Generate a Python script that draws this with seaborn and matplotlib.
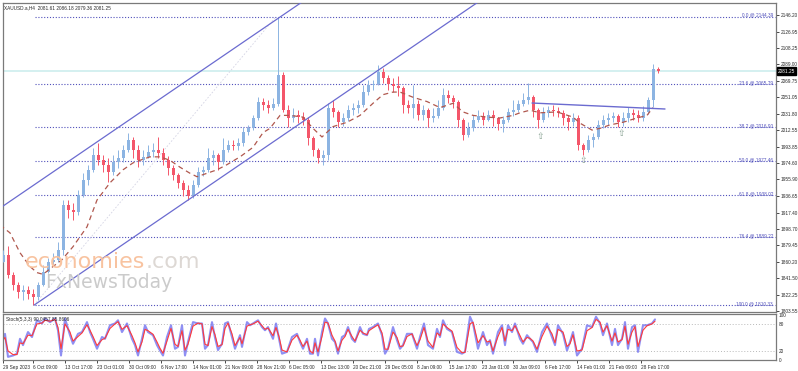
import numpy as np
import pandas as pd
import matplotlib
matplotlib.use("Agg")
import matplotlib.pyplot as plt
import seaborn as sns

# ---------------- data ----------------
title_text = "XAUUSD.a,H4  2081.61 2086.18 2079.36 2081.25"
stoch_title = "Stoch(5,3,3) 90.0457 85.8606"
first_open = 1860
closes = [1868, 1845, 1834, 1826, 1828, 1823, 1820, 1834, 1849, 1860,
          1863, 1874, 1926, 1920, 1918, 1938, 1955, 1967, 1984, 1978,
          1973, 1965, 1976, 1981, 1990, 2002, 1990, 1978, 1982, 1988,
          1990, 1986, 1978, 1969, 1961, 1952, 1944, 1937, 1949, 1965,
          1967, 1981, 1984, 1976, 1990, 1996, 1995, 1998, 2011, 2015,
          2027, 2045, 2042, 2038, 2043, 2077, 2036, 2027, 2030, 2028,
          2025, 2004, 1990, 1981, 1984, 2038, 2034, 2022, 2027, 2036,
          2038, 2042, 2057, 2065, 2066, 2080, 2073, 2066, 2064, 2062,
          2042, 2038, 2043, 2030, 2036, 2027, 2029, 2038, 2054, 2050,
          2045, 2025, 2007, 2015, 2025, 2029, 2025, 2030, 2027, 2020,
          2025, 2034, 2036, 2043, 2048, 2051, 2036, 2025, 2033, 2036,
          2035, 2033, 2027, 2022, 2027, 1996, 1990, 2001, 2005, 2019,
          2025, 2027, 2029, 2022, 2027, 2033, 2030, 2027, 2034, 2048,
          2084, 2081.25]
highs = [1874, 1879, 1849, 1837, 1834, 1833, 1829, 1837, 1857, 1865,
         1871, 1883, 1932, 1932, 1929, 1944, 1963, 1973, 1992, 1998,
         1984, 1981, 1984, 1990, 1996, 2010, 2005, 1996, 1990, 1996,
         1998, 2005, 1992, 1983, 1973, 1963, 1955, 1949, 1955, 1970,
         1971, 1992, 1990, 1986, 2004, 2001, 2001, 2004, 2017, 2019,
         2030, 2051, 2050, 2048, 2050, 2144, 2080, 2042, 2038, 2036,
         2034, 2028, 2006, 1992, 1990, 2044, 2048, 2036, 2033, 2042,
         2044, 2048, 2065, 2071, 2071, 2088, 2085, 2077, 2073, 2076,
         2064, 2048, 2065, 2048, 2042, 2038, 2038, 2048, 2062, 2059,
         2054, 2048, 2027, 2022, 2030, 2036, 2034, 2036, 2036, 2028,
         2029, 2038, 2048, 2048, 2056, 2067, 2054, 2038, 2040, 2041,
         2042, 2040, 2036, 2030, 2033, 2030, 1998, 2007, 2010, 2025,
         2030, 2033, 2034, 2032, 2034, 2040, 2037, 2036, 2041, 2051,
         2089, 2086.18]
lows = [1860, 1842, 1828, 1819, 1816, 1817, 1810, 1816, 1832, 1847,
        1856, 1860, 1868, 1911, 1909, 1915, 1935, 1949, 1965, 1973,
        1965, 1953, 1961, 1969, 1976, 1988, 1981, 1970, 1973, 1981,
        1982, 1981, 1973, 1961, 1955, 1946, 1937, 1932, 1934, 1947,
        1960, 1965, 1973, 1967, 1974, 1988, 1990, 1990, 1995, 2007,
        2013, 2025, 2036, 2033, 2036, 2041, 2034, 2016, 2022, 2021,
        2019, 1996, 1983, 1975, 1973, 1978, 2028, 2016, 2018, 2024,
        2030, 2033, 2040, 2054, 2059, 2065, 2067, 2059, 2057, 2052,
        2033, 2033, 2027, 2025, 2025, 2016, 2022, 2027, 2036, 2044,
        2038, 2016, 2001, 2005, 2012, 2022, 2019, 2023, 2018, 2013,
        2011, 2022, 2029, 2034, 2041, 2043, 2028, 2015, 2022, 2028,
        2029, 2028, 2019, 2013, 2018, 1990, 1984, 1988, 1993, 2003,
        2015, 2019, 2022, 2016, 2018, 2022, 2025, 2022, 2024, 2032,
        2040, 2079.36]

ma_bar = [0, 10, 20, 30, 37, 43, 53, 62, 73, 87, 97, 110, 123, 133, 140, 150,
          160, 170, 180, 190, 197, 207, 217, 227, 240, 253, 263, 270, 280, 290,
          303, 313, 322, 333, 347, 360, 373, 383, 393, 400, 413, 427, 440, 453,
          463, 473, 487, 500, 513, 520, 530, 540, 557, 573, 580, 592, 600, 610,
          623, 637, 647, 653]
ma_val = [1903, 1894, 1871, 1855, 1848, 1846, 1855, 1863, 1878, 1901, 1932, 1952,
          1967, 1975, 1978, 1982, 1982, 1978, 1970, 1963, 1959, 1963, 1967, 1973,
          1982, 1993, 2010, 2015, 2030, 2030, 2028, 2015, 2005, 2017, 2022, 2030,
          2044, 2054, 2057, 2057, 2051, 2046, 2039, 2044, 2034, 2030, 2028, 2027,
          2030, 2033, 2036, 2033, 2034, 2028, 2021, 2013, 2015, 2019, 2022, 2027,
          2030, 2039]

stoch_bar = [0, 5, 8, 13, 17, 20, 23, 28, 32, 37, 42, 45, 50, 55, 58, 61, 65, 70,
             73, 78, 82, 87, 90, 93, 97, 102, 105, 110, 115, 118, 122, 127, 132,
             135, 138, 142, 145, 148, 153, 157, 160, 163, 167, 171, 175, 178, 182,
             185, 188, 193, 198, 202, 205, 208, 212, 215, 218, 222, 225, 228, 232,
             235, 240, 242, 247, 250, 253, 258, 262, 265, 268, 273, 276, 279, 282,
             287, 292, 297, 300, 303, 307, 310, 313, 315, 318, 322, 325, 328, 332,
             335, 338, 342, 345, 348, 352, 355, 360, 363, 367, 369, 373, 378, 382,
             385, 388, 393, 397, 400, 403, 407, 412, 417, 420, 424, 428, 433, 437,
             440, 443, 447, 452, 457, 462, 465, 470, 473, 478, 483, 487, 490, 493,
             498, 502, 505, 508, 512, 515, 520, 523, 527, 530, 533, 537, 542, 547,
             552, 555, 558, 563, 567, 570, 573, 577, 582, 587, 592, 596, 600, 603,
             607, 612, 615, 618, 622, 625, 628, 632, 635, 638, 643, 647, 652, 655]
stoch_k = [29, 58, 7, 10, 14, 47, 33, 62, 51, 88, 81, 92, 84, 92, 66, 10, 92, 55,
           36, 58, 62, 84, 62, 47, 25, 51, 47, 77, 81, 88, 62, 81, 47,
           33, 10, 47, 77, 62, 55, 33, 21, 10, 51, 77, 25, 29, 77,
           10, 40, 84, 81, 81, 25, 33, 84, 50, 22, 36, 81, 84, 51,
           25, 55, 29, 84, 77, 81, 88, 73, 66, 73, 47, 81, 47, 14,
           18, 51, 58, 40, 25, 47, 14, 14, 47, 10, 62, 92, 81, 47,
           40, 14, 51, 55, 73, 47, 40, 73, 58, 55, 69, 73, 81, 55,
           14, 25, 73, 44, 25, 33, 58, 58, 25, 51, 81, 33, 25, 69,
           51, 88, 69, 62, 18, 14, 18, 96, 81, 25, 62, 33, 44, 14,
           62, 77, 33, 77, 62, 81, 47, 36, 55, 47, 40, 18, 62, 81,
           51, 33, 77, 58, 21, 40, 62, 10, 25, 77, 73, 96, 81, 55,
           81, 33, 69, 33, 47, 84, 25, 73, 77, 18, 77, 77, 81, 90]
stoch_d = [35, 50, 20, 12, 12, 38, 36, 55, 54, 80, 82, 88, 86, 90, 72, 25, 80, 62,
           42, 52, 60, 78, 66, 52, 32, 45, 48, 70, 80, 85, 68, 76, 54,
           38, 18, 40, 68, 65, 57, 40, 26, 15, 42, 70, 35, 30, 65,
           22, 35, 75, 82, 80, 35, 32, 74, 56, 30, 34, 70, 82, 58,
           32, 50, 36, 75, 78, 80, 86, 76, 68, 71, 54, 72, 52, 22,
           18, 44, 55, 44, 30, 42, 20, 15, 38, 18, 52, 84, 82, 55,
           42, 20, 44, 52, 68, 52, 42, 66, 60, 56, 65, 71, 78, 60,
           24, 24, 62, 50, 30, 31, 52, 58, 32, 45, 72, 42, 28, 60,
           54, 80, 72, 64, 28, 16, 17, 80, 84, 38, 54, 40, 42, 20,
           52, 72, 42, 68, 65, 76, 54, 40, 50, 48, 42, 24, 52, 75,
           58, 38, 68, 62, 30, 36, 56, 20, 22, 65, 72, 90, 84, 62,
           76, 42, 60, 40, 45, 75, 35, 62, 74, 30, 66, 76, 80, 86]

price_ticks = [2146.20, 2126.95, 2108.25, 2089.00, 2069.75, 2051.05, 2031.80,
               2012.55, 1993.85, 1974.60, 1955.90, 1936.65, 1917.40, 1898.70,
               1879.45, 1860.20, 1841.50, 1822.25, 1803.55]
fib_levels = ["0.0", "23.6", "38.2", "50.0", "61.8", "76.4", "100.0"]
fib_prices = [2144.39, 2065.79, 2016.90, 1977.46, 1938.02, 1889.22, 1810.33]
date_ticks = [3, 33, 65, 97, 129, 161, 193, 225, 257, 289, 321, 353, 385, 417,
              449, 482, 513, 545, 577, 609, 641]
date_labels = ["29 Sep 2023", "6 Oct 09:00", "13 Oct 17:00", "23 Oct 01:00",
               "30 Oct 09:00", "6 Nov 17:00", "14 Nov 01:00", "21 Nov 09:00",
               "28 Nov 21:00", "6 Dec 05:00", "13 Dec 13:00", "20 Dec 21:00",
               "29 Dec 05:00", "8 Jan 09:00", "15 Jan 17:00", "23 Jan 01:00",
               "30 Jan 09:00", "6 Feb 17:00", "14 Feb 01:00", "21 Feb 09:00",
               "28 Feb 17:00"]
channel_upper_bar = [3, 302]
channel_upper_price = [1925.0, 2161.2]
channel_lower_bar = [34, 478]
channel_lower_price = [1810.3, 2161.1]
fib_anchor_bar = [34, 276]
fib_anchor_price = [1810.33, 2144.39]
neck_bar = [532, 665]
neck_price = [2044.3, 2037.4]
arrow_bar = [540, 583, 621]
arrow_price = [2006.1, 1977.2, 2009.6]
last_price = 2081.25
stoch_ticks = [0, 20, 80, 100]

# ---------------- style ----------------
sns.set_theme(style="white")
plt.rcParams["font.family"] = ["Liberation Sans", "DejaVu Sans"]

W, H = 798, 371
RIGHT = 776
fig = plt.figure(figsize=(W / 100, H / 100), dpi=100)
fig.patch.set_facecolor("white")

def frac(x0, y0, x1, y1):
    return [x0 / W, 1 - y1 / H, (x1 - x0) / W, (y1 - y0) / H]

ax = fig.add_axes(frac(3, 3, RIGHT, 312))
sax = fig.add_axes(frac(3, 314, RIGHT, 360))

UP = "#8cb4e2"
DOWN = "#f4566a"
BLUE_LINE = "#6b6bd0"
FIB = "#5050bb"
TXT = "#2a2a2a"
FS = 3.4

# candles
bar_step = 5
df = pd.DataFrame({"close": closes, "high": highs, "low": lows})
df["open"] = [first_open] + closes[:-1]
df["x"] = 3 + bar_step * np.arange(len(df))
df["up"] = df["close"] >= df["open"]
cols = np.where(df["up"], UP, DOWN)

ax.axhline(last_price, color="#c9ecec", lw=1.1, zorder=1)
ax.vlines(df["x"], df["low"], df["high"], colors=cols, lw=0.7, zorder=3)
body = np.maximum((df["close"] - df["open"]).abs(), 0.8)
ax.bar(df["x"], body, bottom=np.minimum(df["open"], df["close"]), width=3.0,
       color=cols, linewidth=0, zorder=3)

# moving average
sns.lineplot(x=ma_bar, y=ma_val, ax=ax, color="#b0584e", lw=0.9,
             linestyle=(0, (4, 3)), zorder=4)

# fibonacci levels
ax.hlines(fib_prices, 35, RIGHT - 1, colors=FIB, lw=0.8, linestyles=(0, (1, 1.6)), zorder=2)
for lvl, p in zip(fib_levels, fib_prices):
    ax.text(RIGHT - 3, p + 1.5, f"{lvl} @ {p:.2f}", ha="right", va="center",
            fontsize=FS, color=FIB, zorder=5)
ax.plot(fib_anchor_bar, fib_anchor_price, color="#d4d4e4", lw=0.6,
        linestyle=(0, (2, 2)), zorder=2)

# channel + neckline
ax.plot(channel_upper_bar, channel_upper_price, color=BLUE_LINE, lw=0.9, zorder=4)
ax.plot(channel_lower_bar, channel_lower_price, color=BLUE_LINE, lw=0.9, zorder=4)
ax.plot(neck_bar, neck_price, color=BLUE_LINE, lw=1.0, zorder=4)

for xb, p in zip(arrow_bar, arrow_price):
    ax.text(xb, p, "\u21e7", ha="center", va="center", fontsize=6.5,
            color="#86a090", family="DejaVu Sans", zorder=5)

ax.set_xlim(3, RIGHT)
ax.set_ylim(1802.4, 2160.1)
ax.set_xticks([])
ax.yaxis.tick_right()
ax.set_yticks(price_ticks)
ax.set_yticklabels([f"{t:.2f}" for t in price_ticks])
ax.tick_params(axis="y", which="both", right=True, length=2, width=0.6,
               pad=1.2, labelsize=FS, colors=TXT)
for s in ax.spines.values():
    s.set_color("#7a7a7a")
    s.set_linewidth(0.9)

# current price box
ax.annotate(f"{last_price:.2f}", xy=(1.0, last_price),
            xycoords=("axes fraction", "data"), xytext=(1.3, 0),
            textcoords="offset points", ha="left", va="center",
            fontsize=FS, color="white",
            bbox=dict(boxstyle="square,pad=0.25", fc="black", ec="black"),
            zorder=10, annotation_clip=False)

# watermark
t1 = fig.text(25 / W, 1 - 262 / H, "economies", fontsize=16, color="#f8c3a0",
              va="center", ha="left", family="DejaVu Sans")
ax.annotate(".com", xy=(1, 0), xycoords=t1, xytext=(0, 0), textcoords="offset points",
            va="bottom", ha="left", fontsize=16, color="#ddd8d4",
            family="DejaVu Sans", annotation_clip=False)
fig.text(45 / W, 1 - 282 / H, "FxNewsToday", fontsize=13.5, color="#cbcbcb",
         va="center", ha="left", family="DejaVu Sans")

# titles
fig.text(4 / W, 1 - 8 / H, title_text, fontsize=FS, color=TXT, va="center", ha="left")

# stochastic
sax.hlines([20, 80], 3, RIGHT, colors="#b9b9b9", lw=0.7, linestyles=(0, (1, 2)))
sns.lineplot(x=stoch_bar, y=stoch_k, ax=sax, color="#6a6af0", lw=1.5, alpha=0.75)
sns.lineplot(x=stoch_bar, y=stoch_d, ax=sax, color="#ff3a3a", lw=0.8)
sax.set_xlim(3, RIGHT)
sax.set_ylim(0, 102)
sax.yaxis.tick_right()
sax.set_yticks(stoch_ticks)
sax.set_yticklabels([str(t) for t in stoch_ticks])
sax.tick_params(axis="y", right=True, length=0, pad=2, labelsize=FS, colors=TXT)
sax.set_xticks(date_ticks)
sax.set_xticklabels(date_labels, ha="left")
sax.tick_params(axis="x", bottom=True, length=2, width=0.6, pad=1.5,
                labelsize=FS, colors=TXT)
sax.set_xlabel("")
sax.set_ylabel("")
ax.set_xlabel("")
ax.set_ylabel("")
for s in sax.spines.values():
    s.set_color("#7a7a7a")
    s.set_linewidth(0.9)
sax.text(0.004, 0.93, stoch_title, transform=sax.transAxes, fontsize=FS,
         color=TXT, va="top", ha="left")

fig.savefig("out.png", dpi=100, facecolor="white")
